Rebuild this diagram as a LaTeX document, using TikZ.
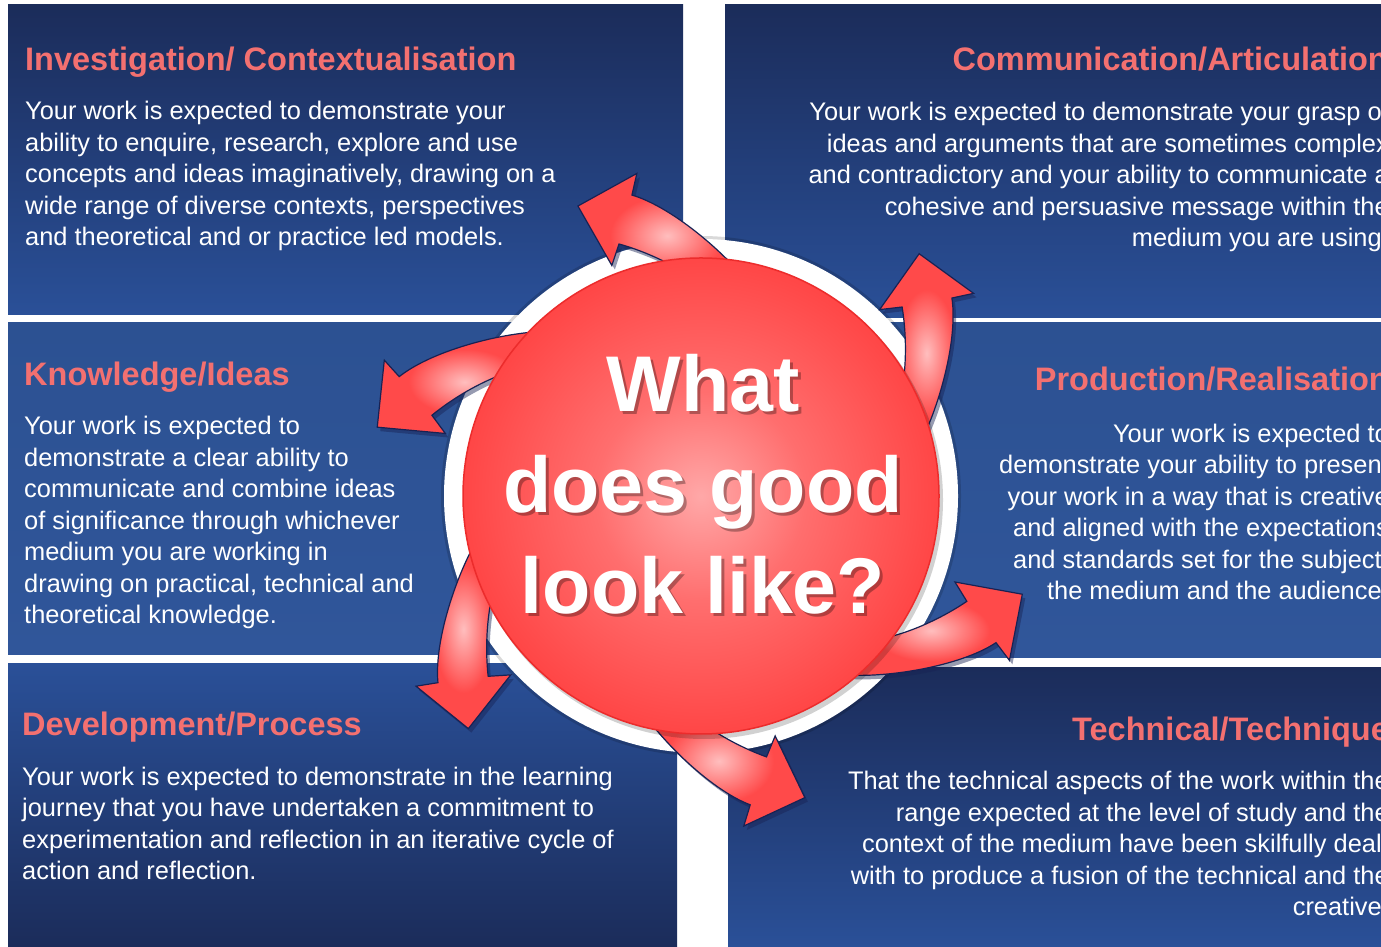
\documentclass[tikz,border=0pt]{standalone}
\usepackage{fontspec}
\setmainfont{Liberation Sans}
\usepackage{tikz}

\definecolor{navytop}{RGB}{27,44,90}
\definecolor{navymid}{RGB}{42,80,152}
\definecolor{bandtop}{RGB}{44,81,146}
\definecolor{bandbot}{RGB}{48,86,154}
\definecolor{headred}{RGB}{243,112,112}
\definecolor{arrowred}{RGB}{255,74,74}
\definecolor{arrowlight}{RGB}{255,190,190}
\definecolor{arrowedge}{RGB}{24,34,84}
\definecolor{ballin}{RGB}{255,168,168}
\definecolor{ballmid}{RGB}{255,110,110}
\definecolor{ballout}{RGB}{255,70,70}
\definecolor{balledge}{RGB}{236,44,44}

\pgfdeclareradialshading{redball}{\pgfpoint{0bp}{0bp}}{color(0bp)=(ballin); color(11bp)=(ballmid); color(25bp)=(ballout); color(50bp)=(ballout)}
\pgfdeclareradialshading{arrowglow}{\pgfpoint{0bp}{0bp}}{color(0bp)=(arrowlight); color(16bp)=(arrowred); color(50bp)=(arrowred)}

\newcommand\arrowpath{(178,-130) .. controls (220,-122) and (290,-88) .. (318,-54) -- (336,-67) -- (329,0) -- (261,-8) -- (278,-23) .. controls (258,-48) and (225,-78) .. (190,-92) -- cycle}

\tikzset{
  heading/.style={font=\fontsize{32.5}{38}\selectfont\bfseries, text=headred, inner sep=0pt},
  blurb/.style={font=\fontsize{25.4}{31.5}\selectfont, text=white, inner sep=0pt},
  bigq/.style={font=\fontsize{79}{101}\selectfont\bfseries, align=center, text=white, inner sep=0pt}
}

\begin{document}
\begin{tikzpicture}[x=1pt, y=1pt]
        \useasboundingbox (0,0) rectangle (1381,947);
        \clip (0,0) rectangle (1381,947);
        \fill[white] (0,0) rectangle (1381,947);

        % panels
        \shade[top color=navytop, bottom color=navymid] (8,632) rectangle (683,942);
        \shade[top color=navytop, bottom color=navymid] (725,629) rectangle (1381,942);
        \shade[top color=bandtop, bottom color=bandbot] (8,292) rectangle (695,624);
        \shade[top color=bandtop, bottom color=bandbot] (705,289) rectangle (1381,624);
        \shade[top color=navymid, bottom color=navytop] (8,0) rectangle (677,283);
        \shade[top color=navytop, bottom color=navymid] (728,0) rectangle (1381,279);

        % base of a multi-line node = its last line
        \node (invtitle) [heading, anchor=base west] at (25,876) {Investigation/ Contextualisation};
        \node (invtext) [blurb, anchor=base west, align=left] at (25,701) {Your work is expected to demonstrate your\\ability to enquire, research, explore and use\\concepts and ideas imaginatively, drawing on a\\wide range of diverse contexts, perspectives\\and theoretical and or practice led models.};

        \node (comtitle) [heading, anchor=base east] at (1388,876) {Communication/Articulation};
        \node (comtext) [blurb, anchor=base east, align=right] at (1389,700) {Your work is expected to demonstrate your grasp of\\ideas and arguments that are sometimes complex\\and contradictory and your ability to communicate a\\cohesive and persuasive message within the\\medium you are using.};

        \node (knowtitle) [heading, anchor=base west] at (24,561) {Knowledge/Ideas};
        \node (knowtext) [blurb, anchor=base west, align=left] at (24,323) {Your work is expected to\\demonstrate a clear ability to\\communicate and combine ideas\\of significance through whichever\\medium you are working in\\drawing on practical, technical and\\theoretical knowledge.};

        \node (protitle) [heading, anchor=base east] at (1389,556) {Production/Realisation};
        \node (protext) [blurb, anchor=base east, align=right] at (1389,347) {Your work is expected to\\demonstrate your ability to present\\your work in a way that is creative\\and aligned with the expectations\\and standards set for the subject,\\the medium and the audience.};

        \node (devtitle) [heading, anchor=base west] at (22,211) {Development/Process};
        \node (devtext) [blurb, anchor=base west, align=left] at (22,67) {Your work is expected to demonstrate in the learning\\journey that you have undertaken a commitment to\\experimentation and reflection in an iterative cycle of\\action and reflection.};

        \node (techtitle) [heading, anchor=base east] at (1389,206) {Technical/Technique};
        \node (techtext) [blurb, anchor=base east, align=right] at (1389,31) {That the technical aspects of the work within the\\range expected at the level of study and the\\context of the medium have been skilfully dealt\\with to produce a fusion of the technical and the\\creative.};

        % ring, arrows, ball
        \coordinate (hub) at (701,451);
        \fill[black, opacity=.15] (hub) circle[radius=260pt];
        \fill[white] (hub) circle[radius=257pt];

        \foreach \a/\d in {48/-3,113/-14,168/2,225/0,289/-10,343/7} {
          \fill[arrowedge, opacity=.45, shift={(704,447)}, rotate=\a, xshift=\d] \arrowpath;
          \shadedraw[shading=arrowglow, draw=arrowedge, line width=1.2pt, shift={(701,451)}, rotate=\a, xshift=\d] \arrowpath;
        }

        \fill[black, opacity=.18] ([shift={(3,-4)}]hub) circle[radius=239pt];
        \shadedraw[shading=redball, draw=balledge, line width=1.5pt] (hub) circle[radius=238pt];

        \node (qshadow) [bigq, text=black, opacity=.3, anchor=base] at (706,330) {What\\does good\\look like?};
        \node (question) [bigq, anchor=base] at (703,333) {What\\does good\\look like?};
\end{tikzpicture}
\end{document}
